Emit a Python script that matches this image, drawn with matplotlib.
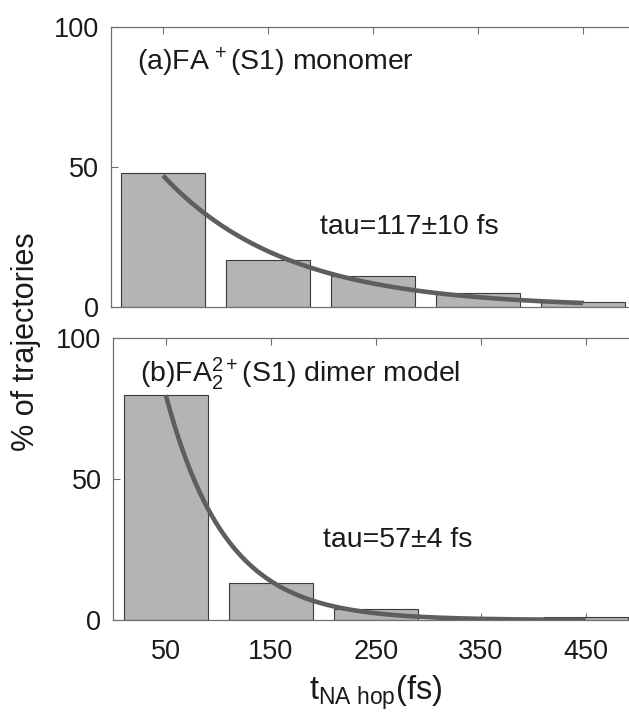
import numpy as np
import matplotlib
matplotlib.use("Agg")
import matplotlib.pyplot as plt

plt.rcParams['font.family'] = ['Liberation Sans', 'DejaVu Sans']
plt.rcParams['mathtext.fontset'] = 'custom'
plt.rcParams['mathtext.rm'] = 'Liberation Sans'
plt.rcParams['mathtext.it'] = 'Liberation Sans:italic'
plt.rcParams['mathtext.bf'] = 'Liberation Sans:bold'

# ---- data ----
bin_centers = [50, 150, 250, 350, 450]
pct_monomer = [48, 17, 11, 5, 2]
pct_dimer = [80, 13, 4, 0, 1]
xtick_labels = ['50', '150', '250', '350', '450']
yticks = [0, 50, 100]

# exponential fit parameters (amplitude, tau in fs)
fit_amp_monomer, fit_tau_monomer = 72, 117
fit_amp_dimer, fit_tau_dimer = 192, 57
fit_range = (50, 450)

label_a = r'(a)FA$^{\,+}$(S1) monomer'
label_b = r'(b)FA$_{2}^{2+}$(S1) dimer model'
tau_a = 'tau=117±10 fs'
tau_b = 'tau=57±4 fs'

W, H = 629, 718
fig = plt.figure(figsize=(W / 100, H / 100), dpi=100)

def px_axes(left, top, right, bottom):
    return [left / W, 1 - bottom / H, (right - left) / W, (bottom - top) / H]

ax1 = fig.add_axes(px_axes(110.5, 26.7, 635.5, 307.3))
ax2 = fig.add_axes(px_axes(113.3, 338.3, 638.3, 620.0))

bar_face = '#b4b4b4'
bar_edge = '#3a3a3a'
curve_col = '#5e5e5e'
spine_col = '#707070'
text_col = '#1a1a1a'

t_fit = np.linspace(fit_range[0], fit_range[1], 300)

for ax, pct, amp, tau, lab, tautxt in [
        (ax1, pct_monomer, fit_amp_monomer, fit_tau_monomer, label_a, tau_a),
        (ax2, pct_dimer, fit_amp_dimer, fit_tau_dimer, label_b, tau_b)]:
    ax.bar(bin_centers, pct, width=80, color=bar_face, edgecolor=bar_edge,
           linewidth=0.8, zorder=2)
    ax.plot(t_fit, amp * np.exp(-t_fit / tau), color=curve_col, lw=3.3,
            solid_capstyle='butt', zorder=3)
    ax.set_xlim(0, 500)
    ax.set_ylim(0, 100)
    ax.set_yticks(yticks)
    ax.set_xticks(bin_centers)
    ax.tick_params(direction='in', top=True, right=True, length=5, width=0.8,
                   color=spine_col, labelsize=19.5, labelcolor=text_col)
    ax.tick_params(axis='y', pad=8.5)
    ax.tick_params(axis='x', pad=14)
    for sp in ax.spines.values():
        sp.set_color(spine_col)
        sp.set_linewidth(0.9)
    ax.text(25, 84.5, lab, fontsize=20.5, color=text_col, va='baseline', ha='left')
    ax.text(200, 26, tautxt, fontsize=20.5, color=text_col, va='baseline', ha='left')

ax1.set_xticklabels([])
ax2.set_xticklabels(xtick_labels)

fig.text(26 / W, 1 - 342 / H, '% of trajectories', rotation=90, fontsize=22,
         color=text_col, ha='center', va='center')
fig.text(375.7 / W, 1 - 700 / H, r't$_{\mathrm{NA\ hop}}$(fs)', fontsize=23.5,
         color=text_col, ha='center', va='baseline')

fig.savefig('out.png', dpi=100)
